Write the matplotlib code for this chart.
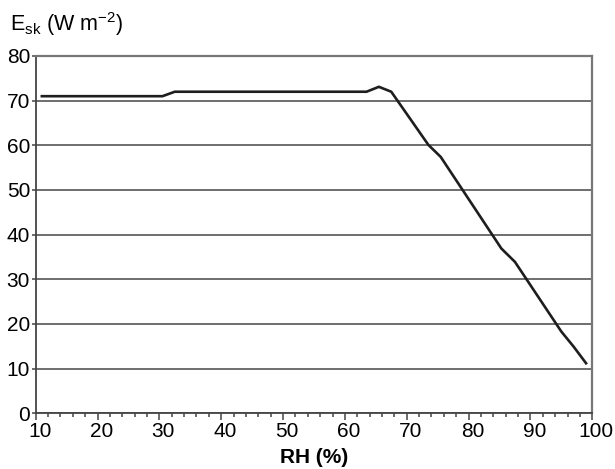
import matplotlib
matplotlib.use("Agg")
from matplotlib import pyplot as plt
from matplotlib.ticker import MultipleLocator
import matplotlib.transforms as mtransforms

plt.rcParams['font.family'] = ['Liberation Sans', 'DejaVu Sans']
plt.rcParams['mathtext.fontset'] = 'custom'
plt.rcParams['mathtext.rm'] = 'Liberation Sans'
plt.rcParams['mathtext.it'] = 'Liberation Sans'

# RH (%) vs Esk (W m-2)
rh = [11, 30.5, 32.5, 63.5, 65.5, 67.5, 73.5, 75.5, 85.3, 87.5, 95, 97, 99]
esk = [71, 71, 72, 72, 73.1, 72, 60.1, 57.4, 36.9, 33.9, 18.3, 14.9, 11.2]

fig = plt.figure(figsize=(6.15, 4.69), dpi=100)
ax = fig.add_axes([0.058, 0.1188, 0.905, 0.7618])

ax.plot(rh, esk, color="#1e1e1e", lw=1.9, solid_joinstyle="miter", zorder=3)

ax.set_xlim(10, 100)
ax.set_ylim(0, 80)
ax.xaxis.set_major_locator(MultipleLocator(10))
ax.xaxis.set_minor_locator(MultipleLocator(2))
ax.yaxis.set_major_locator(MultipleLocator(10))
ax.yaxis.grid(True, color="#555555", lw=1.2)
ax.set_axisbelow(True)

for s in ["left", "bottom"]:
    ax.spines[s].set_color("#444444")
    ax.spines[s].set_linewidth(1.3)
for s in ["right", "top"]:
    ax.spines[s].set_color("#777777")
    ax.spines[s].set_linewidth(1.6)

ax.tick_params(axis="x", which="major", length=5, width=1.1, color="#444444",
               labelsize=15, pad=1.5)
ax.tick_params(axis="x", which="minor", length=3, width=1.1, color="#444444")
ax.tick_params(axis="y", which="major", length=3, width=1.1, color="#444444",
               labelsize=15, pad=1)

offset = mtransforms.ScaledTranslation(4 / 100, 0, fig.dpi_scale_trans)
for lab in ax.get_xticklabels():
    lab.set_transform(lab.get_transform() + offset)

fig.text(0.016, 0.933, r'E$_{\rm sk}$ (W m$^{-2}$)', fontsize=15.5, ha="left", va="baseline")
fig.text(0.511, 0.012, "RH (%)", fontsize=15, fontweight="bold", ha="center", va="baseline")

plt.savefig("out.png", dpi=100)
